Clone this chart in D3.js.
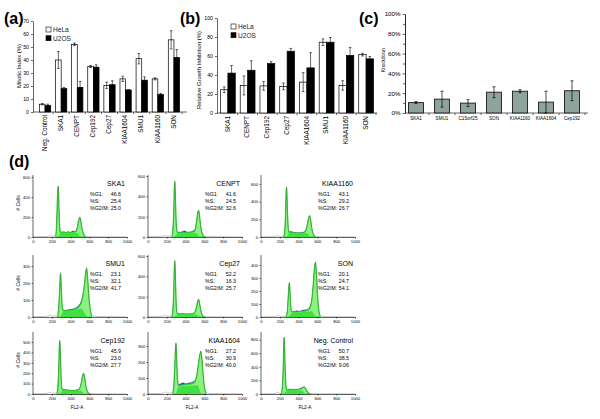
<!DOCTYPE html>
<html><head><meta charset="utf-8">
<script src="https://cdn.jsdelivr.net/npm/d3@7"></script>
<style>body{margin:0;background:#fff}svg{display:block;font-family:"Liberation Sans",Arial,sans-serif}</style>
</head><body><svg id="c" width="600" height="419"></svg>
<script>
// ---------- Panel (a): Mitotic index ----------
const catsA = ["Neg. Control","SKA1","CENPT","Cep192","Cep27","KIAA1604","SMU1","KIAA1160","SON"];
const helaA = [6, 40, 52, 35, 20.5, 25.5, 41, 25.5, 55.5];
const helaAErr = [0.5, 6.5, 1, 0.8, 2.5, 2, 4, 0.8, 7];
const u2osA = [5, 18, 19, 34.5, 21, 17, 24.5, 13.5, 42];
const u2osAErr = [1, 0.8, 4.5, 1.8, 3, 0, 2.5, 0.8, 6];
const ticksA = [0,10,20,30,40,50,60,70];

// ---------- Panel (b): Relative growth inhibition ----------
const catsB = ["SKA1","CENPT","Cep192","Cep27","KIAA1604","SMU1","KIAA1160","SON"];
const helaB = [24.5, 29, 28.5, 28, 32.5, 74.5, 29, 61.5];
const helaBErr = [3, 10, 4.5, 3.5, 10, 3.5, 5, 1.5];
const u2osB = [42, 45, 52, 65, 47.5, 74.5, 60.5, 57];
const u2osBErr = [8, 10, 2, 3, 16, 5, 8.5, 2.5];
const ticksB = [0,20,40,60,80,100];

// ---------- Panel (c): Knockdown ----------
const catsC = ["SKA1","SMU1","C15orf25","SON","KIAA1160","KIAA1604","Cep192"];
const knockC = [0.105, 0.14, 0.10, 0.21, 0.22, 0.11, 0.225];
const knockCErr = [0.01, 0.08, 0.035, 0.055, 0.015, 0.11, 0.10];
const ticksC = [0,0.2,0.4,0.6,0.8,1.0];

// ---------- Panel (d): cell cycle histograms ----------
const namesD = ["SKA1","CENPT","KIAA1160","SMU1","Cep27","SON","Cep192","KIAA1604","Neg. Control"];
const pctG1 = ["46.6","41.6","43.1","23.1","52.2","20.1","45.9","27.2","50.7"];
const pctS = ["25.4","24.5","29.2","32.1","16.3","24.7","23.0","30.9","38.5"];
const pctG2M = ["25.0","32.6","26.7","41.7","25.7","54.1","27.7","40.0","9.06"];
const yMaxD = [620, 610, 700, 365, 610, 477, 596, 388, 912];
const yTicksD = [[0,200,400,600],[0,200,400,600],[0,200,400,600],[0,100,200,300],[0,200,400,600],[0,100,200,300,400],[0,100,200,300,400,500],[0,100,200,300],[0,200,400,600,800]];
const xTicksD = [0,200,400,600,800,1000];

const histSKA1 = [[0,3],[100,4],[160,6],[175,15],[190,8],[230,10],[245,60],[255,250],[264,480],[269,510],[275,330],[283,120],[292,55],[310,50],[330,55],[350,45],[370,55],[400,48],[420,60],[440,55],[460,70],[475,120],[488,180],[498,200],[508,160],[520,90],[535,40],[555,10],[575,5],[650,3],[800,2],[1000,1]];
const modelSKA1 = [[240,0],[248,50],[256,250],[264,480],[269,505],[276,300],[284,100],[292,45],[320,44],[400,43],[450,50],[470,80],[485,160],[498,195],[510,150],[522,80],[540,25],[560,0]];
const sSKA1 = [[265,0],[292,40],[475,40],[505,0]];
const histCENPT = [[0,3],[120,4],[165,8],[180,18],[195,8],[240,8],[262,60],[273,250],[281,500],[286,552],[292,380],[300,140],[310,55],[330,48],[360,52],[390,62],[420,48],[450,52],[480,58],[500,80],[515,150],[528,240],[539,266],[548,210],[560,110],[575,40],[595,10],[620,5],[700,3],[1000,1]];
const modelCENPT = [[255,0],[265,50],[274,250],[281,500],[286,545],[293,340],[302,110],[312,42],[350,42],[450,44],[490,52],[510,100],[527,220],[539,260],[550,190],[563,90],[580,25],[600,0]];
const sCENPT = [[284,0],[312,38],[515,40],[545,0]];
const histKIAA1160 = [[0,3],[120,4],[160,8],[175,16],[190,8],[235,8],[250,60],[261,260],[268,520],[273,566],[279,380],[287,140],[297,60],[320,62],[345,55],[370,50],[400,48],[430,52],[460,60],[480,90],[495,160],[508,225],[518,242],[527,200],[540,110],[555,40],[575,10],[600,4],[700,2],[1000,1]];
const modelKIAA1160 = [[242,0],[252,50],[261,250],[268,510],[273,560],[280,340],[289,110],[298,50],[350,46],[440,44],[470,58],[490,120],[506,210],[518,238],[528,190],[541,90],[558,25],[578,0]];
const sKIAA1160 = [[271,0],[298,42],[495,42],[522,0]];
const histSMU1 = [[0,2],[120,3],[160,6],[180,12],[200,6],[255,6],[270,40],[282,150],[290,245],[294,261],[299,200],[307,90],[318,45],[340,40],[370,42],[400,45],[430,48],[460,55],[490,70],[510,90],[530,130],[548,200],[560,265],[571,290],[580,240],[592,140],[605,60],[620,18],[640,6],[700,3],[1000,1]];
const modelSMU1 = [[262,0],[272,40],[283,150],[290,240],[294,255],[300,190],[308,80],[320,38],[350,36],[420,40],[480,55],[510,78],[530,120],[548,195],[560,255],[571,285],[581,230],[594,125],[608,50],[625,0]];
const sSMU1 = [[292,0],[322,33],[520,50],[575,0]];
const histCep27 = [[0,3],[120,4],[165,10],[180,20],[195,8],[245,6],[262,60],[273,260],[281,510],[286,557],[292,380],[300,130],[310,40],[330,32],[360,35],[390,33],[420,30],[450,33],[480,38],[500,55],[515,100],[528,160],[539,174],[548,140],[560,75],[575,25],[595,8],[620,4],[700,2],[1000,1]];
const modelCep27 = [[255,0],[265,50],[274,260],[281,500],[286,550],[293,340],[302,100],[312,28],[350,29],[450,28],[490,37],[510,70],[527,145],[539,170],[550,125],[563,60],[580,15],[600,0]];
const sCep27 = [[284,0],[312,25],[515,28],[543,0]];
const histSON = [[0,2],[130,3],[170,6],[185,12],[200,5],[260,5],[278,40],[290,160],[298,250],[302,266],[308,200],[316,80],[326,45],[350,42],[380,48],[410,45],[440,52],[470,55],[500,60],[520,80],[540,140],[556,260],[568,380],[580,426],[590,330],[600,180],[612,70],[625,20],[645,6],[700,3],[1000,1]];
const modelSON = [[268,0],[280,40],[291,160],[298,245],[302,260],[309,190],[318,70],[328,38],[370,38],[450,44],[500,52],[525,75],[542,140],[557,255],[569,370],[580,420],[591,320],[602,165],[614,60],[630,0]];
const sSON = [[300,0],[328,30],[540,45],[582,0]];
const histCep192 = [[0,3],[120,4],[165,10],[180,18],[195,8],[245,8],[262,60],[273,240],[281,470],[286,516],[292,350],[300,130],[310,50],[330,45],[360,40],[390,38],[420,35],[450,38],[480,45],[500,65],[515,120],[528,185],[539,200],[548,165],[560,90],[575,30],[595,8],[620,4],[700,2],[1000,1]];
const modelCep192 = [[255,0],[265,50],[274,240],[281,465],[286,510],[293,320],[302,100],[312,40],[350,36],[450,33],[490,42],[510,90],[527,170],[539,195],[550,150],[563,75],[580,20],[600,0]];
const sCep192 = [[284,0],[312,30],[515,32],[543,0]];
const histKIAA1604 = [[0,2],[120,3],[170,6],[185,14],[200,6],[258,6],[274,50],[286,200],[294,305],[298,321],[304,240],[312,110],[322,60],[340,62],[370,70],[400,65],[430,68],[460,72],[490,80],[510,100],[530,160],[546,230],[556,262],[563,269],[572,230],[584,140],[597,60],[612,15],[630,5],[700,2],[1000,1]];
const modelKIAA1604 = [[264,0],[275,50],[287,200],[294,300],[298,315],[305,220],[314,90],[324,52],[360,56],[440,60],[490,70],[515,100],[533,170],[548,235],[563,262],[574,215],[586,125],[600,45],[618,0]];
const sKIAA1604 = [[296,0],[324,47],[530,55],[566,0]];
const histNeg = [[0,3],[120,5],[160,10],[180,22],[195,10],[210,8],[225,80],[236,400],[243,780],[247,838],[252,600],[260,250],[270,90],[280,70],[300,75],[320,70],[340,72],[360,68],[380,72],[400,75],[420,85],[440,100],[452,108],[462,105],[475,80],[490,45],[505,15],[525,5],[600,3],[1000,1]];
const modelNeg = [[215,0],[226,80],[237,400],[243,770],[247,830],[253,560],[262,200],[272,65],[290,62],[350,62],[400,66],[430,78],[450,95],[462,100],[476,70],[492,35],[510,10],[527,0]];
const sNeg = [[245,0],[272,58],[440,50],[465,0]];

const histsD = [histSKA1,histCENPT,histKIAA1160,histSMU1,histCep27,histSON,histCep192,histKIAA1604,histNeg];
const modelsD = [modelSKA1,modelCENPT,modelKIAA1160,modelSMU1,modelCep27,modelSON,modelCep192,modelKIAA1604,modelNeg];
const sPhaseD = [sSKA1,sCENPT,sKIAA1160,sSMU1,sCep27,sSON,sCep192,sKIAA1604,sNeg];

// ================= drawing =================
const svg = d3.select('#c');

function panelLabel(t, x, y) {
  svg.append('text').attr('x', x).attr('y', y).attr('font-size', 16).attr('font-weight', 'bold').text(t);
}
panelLabel('(a)', 4, 24);
panelLabel('(b)', 180, 24);
panelLabel('(c)', 359, 24);
panelLabel('(d)', 9, 167);

function styleAxis(g, fs) {
  g.selectAll('path,line').attr('stroke', '#000').attr('stroke-width', 0.6);
  g.selectAll('text').attr('font-size', fs).attr('fill', '#000').attr('font-family', '"Liberation Sans",Arial,sans-serif');
}

function groupedBars(o) {
  const g = svg.append('g');
  const x = d3.scaleBand().domain(o.cats).range(o.xr).paddingInner(o.pi).paddingOuter(o.po);
  const xs = d3.scaleBand().domain(['HeLa','U2OS']).range([0, x.bandwidth()]);
  const y = d3.scaleLinear().domain([0, o.ymax]).range(o.yr);
  const ya = g.append('g').attr('transform', `translate(${o.axisX},0)`)
    .call(d3.axisLeft(y).tickValues(o.ticks).tickSize(2).tickSizeOuter(0).tickPadding(2));
  styleAxis(ya, 5.2);
  g.append('line').attr('x1', o.axisX).attr('x2', o.axisEnd).attr('y1', y(0)).attr('y2', y(0)).attr('stroke', '#000').attr('stroke-width', 0.6);
  o.cats.forEach((c, i) => {
    const bx = x(c) + x.bandwidth() / 2 + x.step() / 2;
    g.append('line').attr('x1', bx).attr('x2', bx).attr('y1', y(0)).attr('y2', y(0) + 2).attr('stroke', '#000').attr('stroke-width', 0.6);
    g.append('text').attr('transform', `translate(${x(c) + x.bandwidth() / 2},${y(0) + 3}) rotate(-90)`)
      .attr('text-anchor', 'end').attr('dominant-baseline', 'middle').attr('font-size', 6.4).text(c);
  });
  const series = [['HeLa', o.hela, o.helaErr, '#fff'], ['U2OS', o.u2os, o.u2osErr, '#000']];
  series.forEach(([k, vals, errs, fill]) => {
    g.selectAll(null).data(o.cats).enter().append('rect')
      .attr('x', c => x(c) + xs(k)).attr('width', xs.bandwidth())
      .attr('y', (c, i) => y(vals[i])).attr('height', (c, i) => y(0) - y(vals[i]))
      .attr('fill', fill).attr('stroke', '#000').attr('stroke-width', 0.7);
    o.cats.forEach((c, i) => {
      const cx = x(c) + xs(k) + xs.bandwidth() / 2;
      const y1 = y(vals[i] + errs[i]), y2 = y(Math.max(0, vals[i] - errs[i]));
      g.append('line').attr('x1', cx).attr('x2', cx).attr('y1', y1).attr('y2', y2).attr('stroke', '#000').attr('stroke-width', 0.6);
      [y1, y2].forEach(yy => g.append('line').attr('x1', cx - 1.3).attr('x2', cx + 1.3).attr('y1', yy).attr('y2', yy).attr('stroke', '#000').attr('stroke-width', 0.6));
    });
  });
  g.append('text').attr('transform', `translate(${o.titleX},${o.titleY}) rotate(-90)`)
    .attr('text-anchor', 'middle').attr('font-size', 5.9).text(o.title);
  [['HeLa', '#fff'], ['U2OS', '#000']].forEach(([k, f], i) => {
    g.append('rect').attr('x', o.legX).attr('y', o.legY + i * 8.7).attr('width', 5).attr('height', 5)
      .attr('fill', f).attr('stroke', '#000').attr('stroke-width', 0.6);
    g.append('text').attr('x', o.legX + 7).attr('y', o.legY + i * 8.7 + 5.2).attr('font-size', 6.6).attr('fill', '#222').text(k);
  });
}

groupedBars({cats: catsA, hela: helaA, helaErr: helaAErr, u2os: u2osA, u2osErr: u2osAErr,
  xr: [37, 182], pi: 0.3, po: 0.15, ymax: 70, yr: [112, 21], ticks: ticksA, axisX: 33, axisEnd: 187,
  title: 'Mitotic Index (%)', titleX: 21, titleY: 66, legX: 46, legY: 27});
groupedBars({cats: catsB, hela: helaB, helaErr: helaBErr, u2os: u2osB, u2osErr: u2osBErr,
  xr: [218, 376], pi: 0.25, po: 0.125, ymax: 100, yr: [113, 18], ticks: ticksB, axisX: 217, axisEnd: 377,
  title: 'Relative Growth Inhibition (%)', titleX: 201, titleY: 70, legX: 231, legY: 24});

// ---------- panel (c) ----------
(function () {
  const g = svg.append('g');
  const x = d3.scaleBand().domain(catsC).range([403, 585]).paddingInner(0.42).paddingOuter(0.21);
  const y = d3.scaleLinear().domain([0, 1]).range([113, 14]);
  const ya = g.append('g').attr('transform', 'translate(405,0)')
    .call(d3.axisLeft(y).tickValues(ticksC).tickFormat(d3.format('.0%')).tickSize(2.5).tickSizeOuter(0).tickPadding(2));
  styleAxis(ya, 6.2);
  const minor = g.append('g').attr('transform', 'translate(405,0)')
    .call(d3.axisLeft(y).tickValues([0.1,0.3,0.5,0.7,0.9]).tickFormat('').tickSize(2).tickSizeOuter(0));
  styleAxis(minor, 5);
  g.append('line').attr('x1', 405).attr('x2', 588).attr('y1', y(0)).attr('y2', y(0)).attr('stroke', '#000').attr('stroke-width', 0.6);
  catsC.forEach((c, i) => {
    const bx = x(c) + x.bandwidth() / 2 + x.step() / 2;
    g.append('line').attr('x1', bx).attr('x2', bx).attr('y1', y(0)).attr('y2', y(0) + 2).attr('stroke', '#000').attr('stroke-width', 0.6);
    g.append('text').attr('x', x(c) + x.bandwidth() / 2).attr('y', 120).attr('text-anchor', 'middle').attr('font-size', 4.6).text(c);
  });
  g.selectAll(null).data(catsC).enter().append('rect')
    .attr('x', c => x(c)).attr('width', x.bandwidth())
    .attr('y', (c, i) => y(knockC[i])).attr('height', (c, i) => y(0) - y(knockC[i]))
    .attr('fill', '#8ea39c').attr('stroke', '#1a1a1a').attr('stroke-width', 0.9);
  catsC.forEach((c, i) => {
    const cx = x(c) + x.bandwidth() / 2;
    const y1 = y(knockC[i] + knockCErr[i]), y2 = y(Math.max(0, knockC[i] - knockCErr[i]));
    g.append('line').attr('x1', cx).attr('x2', cx).attr('y1', y1).attr('y2', y2).attr('stroke', '#000').attr('stroke-width', 0.7);
    [y1, y2].forEach(yy => g.append('line').attr('x1', cx - 1.5).attr('x2', cx + 1.5).attr('y1', yy).attr('y2', yy).attr('stroke', '#000').attr('stroke-width', 0.7));
  });
  g.append('text').attr('transform', 'translate(385,60) rotate(-90)').attr('text-anchor', 'middle').attr('font-size', 4.6).text('Knockdown');
})();

// ---------- panel (d) ----------
const colX = [33, 148, 261];
const rowY = [237, 317, 394];
const PW = 94, PH = 62;
namesD.forEach((name, i) => {
  const x0 = colX[i % 3], y0 = rowY[Math.floor(i / 3)];
  const g = svg.append('g');
  const x = d3.scaleLinear().domain([0, 1000]).range([x0, x0 + PW]);
  const y = d3.scaleLinear().domain([0, yMaxD[i]]).range([y0, y0 - PH]);
  const hist = histsD[i], model = modelsD[i], sp = sPhaseD[i];
  const lo = model[0][0], hi = model[model.length - 1][0];
  const area = d3.area().x(d => x(d[0])).y0(y(0)).y1(d => y(d[1])).curve(d3.curveMonotoneX);
  const areaLin = d3.area().x(d => x(d[0])).y0(y(0)).y1(d => y(d[1]));
  g.append('path').attr('d', area(hist.filter(d => d[0] >= lo && d[0] <= hi))).attr('fill', '#2838e8');
  g.append('path').attr('d', area(model)).attr('fill', '#8ef083').attr('stroke', '#2ee02e').attr('stroke-width', 1.2);
  g.append('path').attr('d', areaLin(sp)).attr('fill', '#3fe03f');
  const line = d3.line().x(d => x(d[0])).y(d => y(d[1])).curve(d3.curveMonotoneX);
  g.append('path').attr('d', line(hist)).attr('fill', 'none').attr('stroke', '#555').attr('stroke-width', 0.35);
  const ya = g.append('g').attr('transform', `translate(${x0},0)`)
    .call(d3.axisLeft(y).tickValues(yTicksD[i]).tickSize(1.5).tickSizeOuter(0).tickPadding(1.5));
  ya.select('.domain').attr('d', `M0,${y0}V${y0 - PH}`);
  styleAxis(ya, 4.2);
  const xa = g.append('g').attr('transform', `translate(0,${y0})`)
    .call(d3.axisBottom(x).tickValues(xTicksD).tickFormat(d3.format('d')).tickSize(1.5).tickSizeOuter(0).tickPadding(1.5));
  styleAxis(xa, 4.2);
  g.append('text').attr('x', x0 + 92).attr('y', y0 - PH + 11).attr('text-anchor', 'end').attr('font-size', 7).text(name);
  const labs = ['%G1:', '%S:', '%G2/M:'], vals = [pctG1[i], pctS[i], pctG2M[i]];
  labs.forEach((l, k) => {
    const yy = y0 - PH + 20.5 + k * 7;
    g.append('text').attr('x', x0 + 57).attr('y', yy).attr('font-size', 5.3).text(l);
    g.append('text').attr('x', x0 + 88).attr('y', yy).attr('text-anchor', 'end').attr('font-size', 5.3).text(vals[k]);
  });
  if (i % 3 === 0) {
    g.append('text').attr('transform', `translate(20,${y0 - PH + 28}) rotate(-90)`).attr('text-anchor', 'middle').attr('font-size', 5).text('# Cells');
  }
  if (i >= 6) {
    g.append('text').attr('x', x0 + 44).attr('y', y0 + 15).attr('text-anchor', 'middle').attr('font-size', 4.6).text('FL2-A');
  }
});
</script></body></html>
